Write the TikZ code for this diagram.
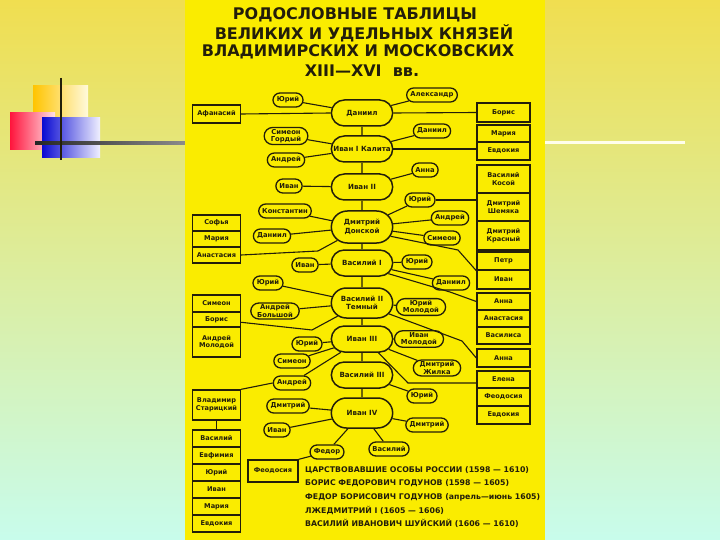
\documentclass[tikz,border=0pt]{standalone}
\usepackage{fontspec}
\setmainfont{DejaVu Sans}
\newfontfamily\titlefont{DejaVu Sans}
\usetikzlibrary{shapes.misc,calc}
\definecolor{panel}{RGB}{250,236,0}
\definecolor{ink}{RGB}{35,30,10}
\definecolor{bgtop}{RGB}{240,222,80}
\definecolor{bgmid}{RGB}{222,238,150}
\definecolor{bgbot}{RGB}{200,252,236}
\begin{document}
\begin{tikzpicture}[x=1pt,y=-1pt,
  lk/.style={draw=ink,line width=1.1pt},
  ov/.style={rounded rectangle, draw=ink, line width=1.3pt, fill=panel, inner xsep=3pt, inner ysep=1.5pt, minimum height=14pt, font=\fontsize{6.8}{7.6}\selectfont\bfseries, align=center, text=ink},
  cn/.style={rounded rectangle, draw=ink, line width=1.5pt, fill=panel, minimum width=68pt, minimum height=26pt, font=\fontsize{7.1}{8.6}\selectfont\bfseries, align=center, text=ink},
  tb/.style={rectangle, draw=ink, line width=1.4pt, fill=panel, minimum width=48pt, font=\fontsize{6.6}{7.6}\selectfont\bfseries, align=center, text=ink, inner sep=0pt},
  tr/.style={tb, minimum width=53pt},
  ttl/.style={font=\titlefont\bfseries\fontsize{16}{16}\selectfont, text=ink, inner sep=0pt},
  btx/.style={anchor=west, font=\fontsize{7.8}{9}\selectfont\bfseries, text=ink, inner sep=0pt}]
\useasboundingbox (0,0) rectangle (720,540);
% background
\shade[top color=bgtop, middle color=bgmid, bottom color=bgbot] (0,0) rectangle (720,540);
% decoration
\shade[left color={rgb,255:red,255;green,196;blue,0}, right color={rgb,255:red,255;green,250;blue,220}] (33,86) rectangle (88,140);
\shade[left color={rgb,255:red,255;green,20;blue,60}, right color={rgb,255:red,255;green,225;blue,230}] (10,113) rectangle (55,150);
\shade[left color={rgb,255:red,10;green,10;blue,210}, right color={rgb,255:red,240;green,240;blue,255}] (42,118) rectangle (100,158);
\shade[left color=black!85, right color=black!45] (35,141.5) rectangle (186,144.5);
\fill[white!92!yellow] (545,141.5) rectangle (685,144.5);
\draw[ink, line width=2pt] (61,78) -- (61,160);
% panel
\fill[panel] (185,0) rectangle (545,540);
% title
\node[ttl] (t1) at (355,15) {РОДОСЛОВНЫЕ ТАБЛИЦЫ};
\node[ttl] (t2) at (364,33) {ВЕЛИКИХ И УДЕЛЬНЫХ КНЯЗЕЙ};
\node[ttl] (t3) at (358,52) {ВЛАДИМИРСКИХ И МОСКОВСКИХ};
\node[ttl] (t4) at (362,71) {XIII—XVI\ \ вв.};
% central column
\node[cn] (d1) at (362,113) {Даниил};
\node[cn] (i1) at (362,149) {Иван I Калита};
\node[cn] (i2) at (362,187) {Иван II};
\node[cn, minimum height=32pt] (dd) at (362,227) {Дмитрий\\Донской};
\node[cn] (v1) at (362,263) {Василий I};
\node[cn, minimum height=30pt] (v2) at (362,303) {Василий II\\Темный};
\node[cn] (i3) at (362,339) {Иван III};
\node[cn] (v3) at (362,375) {Василий III};
\node[cn, minimum height=30pt] (i4) at (362,413) {Иван IV};
% left ovals
\node[ov] (lyu1) at (288,100) {Юрий};
\node[ov] (lsim) at (286,136) {Симеон\\Гордый};
\node[ov] (land1) at (286,160) {Андрей};
\node[ov] (liv1) at (289,186) {Иван};
\node[ov] (lkon) at (285,211) {Константин};
\node[ov] (ldan) at (272,236) {Даниил};
\node[ov] (liv2) at (305,265) {Иван};
\node[ov] (lyu2) at (268,283) {Юрий};
\node[ov] (landb) at (275,311) {Андрей\\Большой};
\node[ov] (lyu3) at (307,344) {Юрий};
\node[ov] (lsim2) at (292,361) {Симеон};
\node[ov] (land2) at (292,383) {Андрей};
\node[ov] (ldm) at (288,406) {Дмитрий};
\node[ov] (liv3) at (277,430) {Иван};
\node[ov] (lfed) at (327,452) {Федор};
% right ovals
\node[ov] (ral) at (432,95) {Александр};
\node[ov] (rdan) at (432,131) {Даниил};
\node[ov] (ranna) at (425,170) {Анна};
\node[ov] (ryu1) at (420,200) {Юрий};
\node[ov] (rand) at (450,218) {Андрей};
\node[ov] (rsim) at (442,238) {Симеон};
\node[ov] (ryu2) at (417,262) {Юрий};
\node[ov] (rdan2) at (451,283) {Даниил};
\node[ov] (ryum) at (421,307) {Юрий\\Молодой};
\node[ov] (rivm) at (419,339) {Иван\\Молодой};
\node[ov] (rdmz) at (437,368) {Дмитрий\\Жилка};
\node[ov] (ryu3) at (422,396) {Юрий};
\node[ov] (rdm) at (427,425) {Дмитрий};
\node[ov] (rvas) at (389,449) {Василий};
% left tables
\node[tb, minimum height=18pt] (afan) at (216.5,114) {Афанасий};
\node[tb, minimum height=16pt] (sof) at (216.5,223) {Софья};
\node[tb, minimum height=16pt] (mar1) at (216.5,239) {Мария};
\node[tb, minimum height=16pt] (anst1) at (216.5,255) {Анастасия};
\node[tb, minimum height=17pt] (sim3) at (216.5,303.5) {Симеон};
\node[tb, minimum height=15pt] (bor2) at (216.5,319.5) {Борис};
\node[tb, minimum height=30pt] (amol) at (216.5,342) {Андрей\\Молодой};
\node[tb, minimum height=30pt] (vlad) at (216.5,405) {Владимир\\Старицкий};
\node[tb, minimum height=17pt] (vas4) at (216.5,438.5) {Василий};
\node[tb, minimum height=17pt] (evf) at (216.5,455.5) {Евфимия};
\node[tb, minimum height=17pt] (yu4) at (216.5,472.5) {Юрий};
\node[tb, minimum height=17pt] (iv4) at (216.5,489.5) {Иван};
\node[tb, minimum height=17pt] (mar4) at (216.5,506.5) {Мария};
\node[tb, minimum height=17pt] (evd4) at (216.5,523.5) {Евдокия};
\node[tb, minimum height=22pt, minimum width=50pt] (feod) at (273,471) {Феодосия};
% right tables
\node[tr, minimum height=19pt] (bor1) at (503.5,112.5) {Борис};
\node[tr, minimum height=17pt] (mar2) at (503.5,133.5) {Мария};
\node[tr, minimum height=18pt] (evd2) at (503.5,151) {Евдокия};
\node[tr, minimum height=28pt] (kos) at (503.5,179) {Василий\\Косой};
\node[tr, minimum height=28pt] (shem) at (503.5,207) {Дмитрий\\Шемяка};
\node[tr, minimum height=29pt] (kras) at (503.5,235.5) {Дмитрий\\Красный};
\node[tr, minimum height=18pt] (petr) at (503.5,261) {Петр};
\node[tr, minimum height=19pt] (ivr) at (503.5,279.5) {Иван};
\node[tr, minimum height=17pt] (ann1) at (503.5,301.5) {Анна};
\node[tr, minimum height=17pt] (anst2) at (503.5,318.5) {Анастасия};
\node[tr, minimum height=17pt] (vsl) at (503.5,335.5) {Василиса};
\node[tr, minimum height=18pt] (ann2) at (503.5,358) {Анна};
\node[tr, minimum height=17pt] (elen) at (503.5,379.5) {Елена};
\node[tr, minimum height=18pt] (feo2) at (503.5,397) {Феодосия};
\node[tr, minimum height=18pt] (evd3) at (503.5,415) {Евдокия};
% bottom text
\node[btx] (b1) at (305,470) {ЦАРСТВОВАВШИЕ ОСОБЫ РОССИИ (1598 — 1610)};
\node[btx] (b2) at (305,483.5) {БОРИС ФЕДОРОВИЧ ГОДУНОВ (1598 — 1605)};
\node[btx] (b3) at (305,497) {ФЕДОР БОРИСОВИЧ ГОДУНОВ (апрель—июнь 1605)};
\node[btx] (b4) at (305,510) {ЛЖЕДМИТРИЙ I (1605 — 1606)};
\node[btx] (b5) at (305,523.5) {ВАСИЛИЙ ИВАНОВИЧ ШУЙСКИЙ (1606 — 1610)};
% coordinates for bends
\coordinate (k1) at (458,250);
\coordinate (k2) at (450,292);
\coordinate (k3) at (312,330);
\coordinate (k4) at (462,341);
\coordinate (k5) at (408,383);
\coordinate (k6) at (318,251);
% connectors
\draw[lk] (d1) -- (i1) (i1) -- (i2) (i2) -- (dd) (dd) -- (v1) (v1) -- (v2) (v2) -- (i3) (i3) -- (v3) (v3) -- (i4);
\draw[lk] (lyu1) -- (d1);
\draw[lk] (d1) -- (ral);
\draw[lk] (afan.east) -- (d1.west);
\draw[lk] (d1.east) -- (bor1.west);
\draw[lk] (lsim) -- (i1);
\draw[lk] (land1) -- (i1);
\draw[lk] (i1) -- (rdan);
\draw[lk] (i1.east) -- (i1.east -| evd2.west);
\draw[lk] (i2) -- (ranna);
\draw[lk] (liv1) -- (i2);
\draw[lk] (lkon) -- (dd);
\draw[lk] (ldan) -- (dd);
\draw[lk] (anst1.east) -- (k6) -- (dd);
\draw[lk] (dd) -- (ryu1);
\draw[lk] (ryu1.east) -- (ryu1.east -| shem.west);
\draw[lk] (dd) -- (rand);
\draw[lk] (dd) -- (rsim);
\draw[lk] (dd.-18) -- (k1) -- (petr.south west);
\draw[lk] (liv2) -- (v1);
\draw[lk] (v1) -- (ryu2);
\draw[lk] (v1) -- (rdan2);
\draw[lk] (v1.-22) -- (k2) -- (ann1.west);
\draw[lk] (lyu2) -- (v2);
\draw[lk] (landb) -- (v2);
\draw[lk] ($(amol.north east)+(0,-4)$) -- (k3) -- (v2);
\draw[lk] (v2) -- (ryum);
\draw[lk] (v2.-22) -- (k4) -- (ann2.west);
\draw[lk] (lyu3) -- (i3);
\draw[lk] (lsim2) -- (i3);
\draw[lk] (land2) -- (i3);
\draw[lk] (land2.west) -- (vlad.north east);
\draw[lk] (i3) -- (rivm);
\draw[lk] (i3) -- (rdmz);
\draw[lk] (i3.-40) -- (k5) -- (k5 -| elen.west);
\draw[lk] (v3) -- (ryu3);
\draw[lk] (ldm) -- (i4);
\draw[lk] (liv3) -- (i4);
\draw[lk] (lfed) -- (i4);
\draw[lk] (i4) -- (rdm);
\draw[lk] (i4) -- (rvas);
\draw[lk] (lfed) -- (feod.north east);
\draw[lk] (vlad.south) -- (vas4.north);
\end{tikzpicture}
\end{document}
